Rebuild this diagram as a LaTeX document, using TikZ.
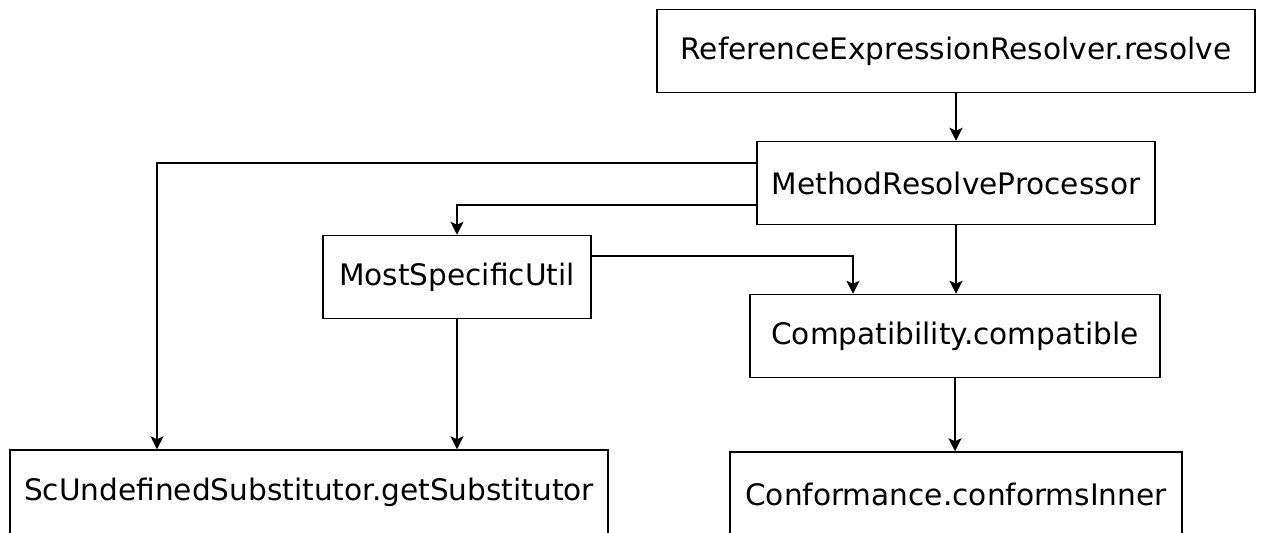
\documentclass[tikz,border=0pt]{standalone}
\usepackage{fontspec}
\setmainfont{DejaVu Sans}
\usepackage{tikz}
\usetikzlibrary{arrows.meta, positioning, calc}

\begin{document}
\begin{tikzpicture}[x=1pt, y=1pt, >={Stealth[length=13pt,width=13pt,inset=3pt]},
    line width=1.5pt,
    box/.style={draw, rectangle, minimum height=83pt, inner sep=0pt,
      font=\fontsize{29.6}{34}\selectfont}]
                  \useasboundingbox (0,0) rectangle (1262,-533);
                  \clip (0,0) rectangle (1262,-533);
                  \fill[white] (0,0) rectangle (1262,-533);

                  \node[box, minimum width=598pt] (rer) at (956,-51) {ReferenceExpressionResolver.resolve};
                  \node[box, minimum width=398pt] (mrp) at (956,-183) {MethodResolveProcessor};
                  \node[box, minimum width=268pt] (msu) at (457,-277) {MostSpecificUtil};
                  \node[box, minimum width=410pt] (cmp) at (955,-336) {Compatibility.compatible};
                  \node[box, minimum width=598pt, minimum height=84pt] (scu) at (309,-492) {ScUndefinedSubstitutor.getSubstitutor};
                  \node[box, minimum width=452pt, minimum height=84pt] (cnf) at (956,-494) {Conformance.conformsInner};

                  \draw[->] (rer.south) to (rer.south |- mrp.north);
                  \draw[->] ([yshift=20pt]mrp.west) -| ([xshift=-152pt]scu.north);
                  \draw[->] ([yshift=-22pt]mrp.west) -| (msu.north);
                  \draw[->] ([yshift=21pt]msu.east) -| ([xshift=-102pt]cmp.north);
                  \draw[->] (mrp.south) to (mrp.south |- cmp.north);
                  \draw[->] (msu.south) to (msu.south |- scu.north);
                  \draw[->] (cmp.south) to (cmp.south |- cnf.north);
                \end{tikzpicture}
\end{document}
